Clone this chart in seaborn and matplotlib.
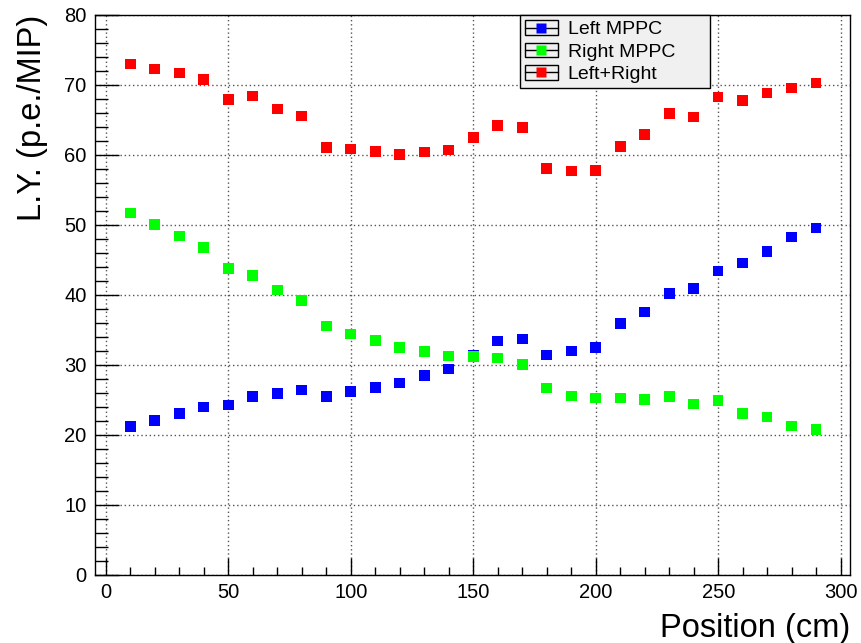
import numpy as np
import pandas as pd
import matplotlib
matplotlib.use("Agg")
import matplotlib.pyplot as plt
import seaborn as sns
from matplotlib.lines import Line2D
from matplotlib.patches import Rectangle
from matplotlib.legend_handler import HandlerBase
from matplotlib.ticker import MultipleLocator

positions = [10, 20, 30, 40, 50, 60, 70, 80, 90, 100, 110, 120, 130, 140, 150,
             160, 170, 180, 190, 200, 210, 220, 230, 240, 250, 260, 270, 280, 290]
left_mppc = [21.2, 22.1, 23.1, 24.0, 24.3, 25.5, 25.95, 26.4, 25.5, 26.2, 26.8, 27.4, 28.5, 29.4, 31.4,
             33.4, 33.7, 31.4, 32.0, 32.5, 35.9, 37.6, 40.2, 40.9, 43.4, 44.6, 46.2, 48.3, 49.6]
right_mppc = [51.7, 50.1, 48.4, 46.8, 43.8, 42.8, 40.7, 39.2, 35.6, 34.4, 33.5, 32.5, 31.9, 31.3, 31.2,
              31.0, 30.1, 26.7, 25.6, 25.3, 25.3, 25.1, 25.5, 24.4, 24.9, 23.1, 22.6, 21.3, 20.8]
left_right = [73.0, 72.3, 71.7, 70.8, 67.95, 68.4, 66.6, 65.55, 61.1, 60.85, 60.5, 60.1, 60.4, 60.7, 62.5,
              64.2, 63.95, 58.1, 57.7, 57.8, 61.2, 62.9, 65.9, 65.4, 68.3, 67.8, 68.85, 69.6, 70.3]
series_names = ["Left MPPC", "Right MPPC", "Left+Right"]
series_colors = ["#0000ff", "#00ff00", "#ff0000"]

df = pd.concat([
    pd.DataFrame({"Position": positions, "LY": vals, "Series": name})
    for name, vals in zip(series_names, [left_mppc, right_mppc, left_right])
], ignore_index=True)

sns.set_theme(style="white")
plt.rcParams['font.family'] = ['Liberation Sans', 'DejaVu Sans']
plt.rcParams['text.color'] = 'black'
plt.rcParams['axes.labelcolor'] = 'black'
plt.rcParams['xtick.color'] = 'black'
plt.rcParams['ytick.color'] = 'black'

fig = plt.figure(figsize=(8.61, 6.43), dpi=100)
ax = fig.add_axes([95/861, 1-575/643, (850-95)/861, (575-15)/643])

sns.scatterplot(data=df, x="Position", y="LY", hue="Series", palette=dict(zip(series_names, series_colors)),
                marker="s", s=58, edgecolor="none", linewidth=0, ax=ax, legend=False, zorder=3)

ax.set_xlim(-4.4, 303.8)
ax.set_ylim(0, 80)
ax.xaxis.set_major_locator(MultipleLocator(50))
ax.xaxis.set_minor_locator(MultipleLocator(10))
ax.yaxis.set_major_locator(MultipleLocator(10))
ax.yaxis.set_minor_locator(MultipleLocator(2))
ax.tick_params(axis='x', which='major', direction='in', length=12, width=1, labelsize=14.5, pad=6,
               color='black', labelcolor='black')
ax.tick_params(axis='x', which='minor', direction='in', length=6, width=1, color='black')
ax.tick_params(axis='y', which='major', direction='in', length=17, width=1, labelsize=14.5, pad=6,
               color='black', labelcolor='black')
ax.tick_params(axis='y', which='minor', direction='in', length=9, width=1, color='black')
ax.tick_params(which='both', bottom=True, left=True, top=False, right=False)
ax.grid(True, which='major', color='#555555', linestyle=(0, (1, 2)), linewidth=1.0)
ax.set_axisbelow(True)
for sp in ax.spines.values():
    sp.set_color('black')
    sp.set_linewidth(1.0)
    sp.set_visible(True)

ax.set_xlabel("Position (cm)", fontsize=23.5, ha='right', x=1.0, labelpad=8, color='black')
ax.set_ylabel("L.Y. (p.e./MIP)", fontsize=23.5, ha='right', y=1.0, labelpad=12, color='black')


class RootHandler(HandlerBase):
    def create_artists(self, legend, orig_handle, xdescent, ydescent, width, height, fontsize, trans):
        color = orig_handle.get_color()
        rect = Rectangle((-xdescent, -ydescent + height*0.02), width, height*0.96, fill=False,
                         edgecolor='black', linewidth=1.0, transform=trans)
        line = Line2D([-xdescent, -xdescent + width], [-ydescent + height/2]*2, color='black',
                      linewidth=1.0, transform=trans)
        mk = Line2D([-xdescent + width/2], [-ydescent + height/2], marker='s', markersize=6.5,
                    markerfacecolor=color, markeredgecolor='none', linestyle='none', transform=trans)
        return [rect, line, mk]


handles = [Line2D([], [], color=c) for c in series_colors]
ax_w = 850 - 95
ax_h = 575 - 15
leg = ax.legend(handles, series_names, handler_map={Line2D: RootHandler()},
                loc='upper left', mode='expand',
                bbox_to_anchor=((520-95)/ax_w, 1 - 71/ax_h, (710-520)/ax_w, 71/ax_h),
                frameon=True, fancybox=False,
                fontsize=14, handlelength=1.7, handleheight=0.85, labelspacing=0.2,
                borderpad=0.25, handletextpad=0.5, borderaxespad=0)
leg.get_frame().set_facecolor('#f0f0f0')
leg.get_frame().set_edgecolor('black')
leg.get_frame().set_linewidth(1.0)
leg.get_frame().set_alpha(1.0)
leg.set_zorder(5)
for t in leg.get_texts():
    t.set_color('black')

fig.savefig("out.png", dpi=100)
